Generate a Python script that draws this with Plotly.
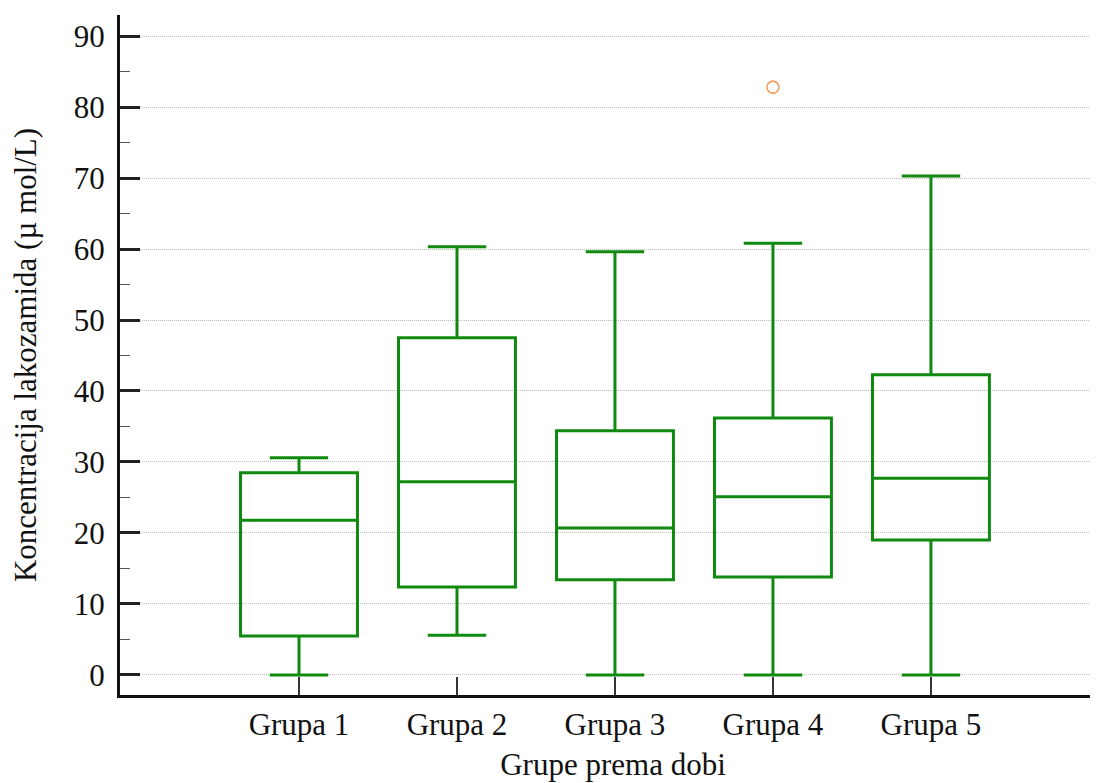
import plotly.graph_objects as go

# Statistike po dobnim grupama (očitano s grafa)
GRUPE = ["Grupa 1", "Grupa 2", "Grupa 3", "Grupa 4", "Grupa 5"]
MIN_VR = [0.0, 5.6, 0.0, 0.0, 0.0]
Q1 = [5.5, 12.4, 13.4, 13.8, 19.0]
MEDIJAN = [21.8, 27.2, 20.7, 25.1, 27.7]
Q3 = [28.5, 47.5, 34.4, 36.2, 42.3]
MAX_VR = [30.6, 60.3, 59.6, 60.8, 70.3]

# Izdvojena vrijednost
OUTLIER_GRUPA = ["Grupa 4"]
OUTLIER_VR = [82.8]

ZELENA = "#0f8a0f"
FONT = "Liberation Serif"

fig = go.Figure()

fig.add_trace(
    go.Box(
        x=GRUPE,
        q1=Q1,
        median=MEDIJAN,
        q3=Q3,
        lowerfence=MIN_VR,
        upperfence=MAX_VR,
        width=0.74,
        whiskerwidth=0.5,
        line_color=ZELENA,
        line_width=3,
        fillcolor="rgba(0,0,0,0)",
        boxpoints=False,
        showlegend=False,
        hoverinfo="skip",
    )
)

fig.add_trace(
    go.Scatter(
        x=OUTLIER_GRUPA,
        y=OUTLIER_VR,
        mode="markers",
        marker=dict(symbol="circle-open", size=12, color="#f4a060", line_width=1.6),
        showlegend=False,
        hoverinfo="skip",
    )
)

fig.update_xaxes(
    type="category",
    range=[-1.133, 5.108],
    showline=True,
    linecolor="#111111",
    linewidth=3,
    ticks="inside",
    ticklen=18,
    tickwidth=2,
    tickcolor="#333333",
    showgrid=False,
    zeroline=False,
    tickfont=dict(family=FONT, size=31, color="#111111"),
    title=dict(text="Grupe prema dobi", font=dict(family=FONT, size=31, color="#111111"), standoff=13),
)

fig.update_yaxes(
    range=[-2.82, 92.96],
    tickvals=[0, 10, 20, 30, 40, 50, 60, 70, 80, 90],
    showline=True,
    linecolor="#111111",
    linewidth=3,
    ticks="inside",
    ticklen=20,
    tickwidth=3,
    tickcolor="#222222",
    ticklabelstandoff=6,
    minor=dict(tickvals=[5, 15, 25, 35, 45, 55, 65, 75, 85], ticks="inside", ticklen=10, tickwidth=1, tickcolor="#555555", showgrid=False),
    showgrid=True,
    gridcolor="#bdbdbd",
    gridwidth=1,
    griddash="1px,1px",
    zeroline=False,
    tickfont=dict(family=FONT, size=31, color="#111111"),
    title=dict(text="Koncentracija lakozamida (µ mol/L)", font=dict(family=FONT, size=31, color="#111111"), standoff=29),
)

fig.update_layout(
    width=1098,
    height=783,
    margin=dict(l=112, r=0, t=7, b=96),
    plot_bgcolor="white",
    paper_bgcolor="white",
)

fig.write_html("out.html")
